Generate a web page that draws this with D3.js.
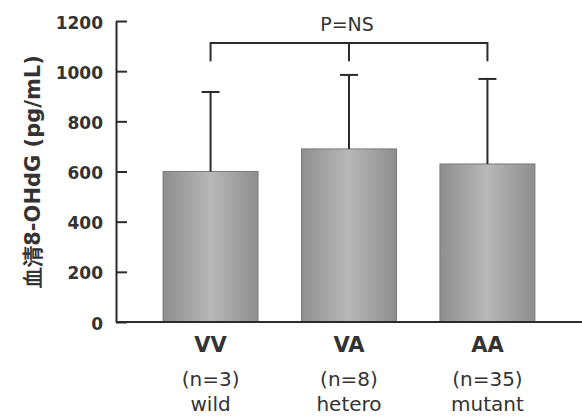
<!DOCTYPE html>
<html>
<head>
<meta charset="utf-8">
<script src="https://cdn.jsdelivr.net/npm/d3@7"></script>
<style>
  html, body { margin: 0; padding: 0; background: #fff; }
</style>
</head>
<body>
<div id="chart"></div>
<script>
const genotypes = ["VV", "VA", "AA"];
const sampleSizes = ["(n=3)", "(n=8)", "(n=35)"];
const groupNames = ["wild", "hetero", "mutant"];
const means = [600, 690, 630];
const upperErrors = [917, 985, 969];
const yTicks = [0, 200, 400, 600, 800, 1000, 1200];
const yTitle = "血清8-OHdG (pg/mL)";
const pLabel = "P=NS";
const bracketLevel = 1112;
const bracketLegEnd = 1040;

const width = 582;
const height = 416;
const margin = { top: 21, right: 0, bottom: 94, left: 116 };
const font = "'DejaVu Sans', Verdana, sans-serif";
const ink = "#2b2b2b";

const svg = d3.select("#chart").append("svg")
  .attr("width", width)
  .attr("height", height)
  .attr("viewBox", `0 0 ${width} ${height}`);

/** gradient for bars **/
const grad = svg.append("defs").append("linearGradient")
  .attr("id", "barGrad")
  .attr("x1", "0%").attr("x2", "100%").attr("y1", "0%").attr("y2", "0%");
grad.append("stop").attr("offset", "0%").attr("stop-color", "#8e8e8e");
grad.append("stop").attr("offset", "50%").attr("stop-color", "#b8b8b8");
grad.append("stop").attr("offset", "100%").attr("stop-color", "#8e8e8e");

const y = d3.scaleLinear()
  .domain([0, 1200])
  .range([height - margin.bottom, margin.top]);

const x = d3.scaleBand()
  .domain(genotypes)
  .range([margin.left, width - margin.right])
  .paddingInner(0.314)
  .paddingOuter(0.34);

/** bars **/
svg.append("g")
  .selectAll("rect")
  .data(genotypes)
  .join("rect")
  .attr("x", (d) => x(d))
  .attr("y", (d, i) => y(means[i]))
  .attr("width", x.bandwidth())
  .attr("height", (d, i) => y(0) - y(means[i]))
  .attr("fill", "url(#barGrad)")
  .attr("stroke", "#7a7a7a")
  .attr("stroke-width", 1);

/** error bars **/
const capHalf = 9;
const err = svg.append("g").attr("stroke", ink).attr("stroke-width", 2);
genotypes.forEach((g, i) => {
  const cx = x(g) + x.bandwidth() / 2;
  err.append("line")
    .attr("x1", cx).attr("x2", cx)
    .attr("y1", y(means[i])).attr("y2", y(upperErrors[i]));
  err.append("line")
    .attr("x1", cx - capHalf).attr("x2", cx + capHalf)
    .attr("y1", y(upperErrors[i])).attr("y2", y(upperErrors[i]));
});

/** y axis **/
svg.append("g")
  .attr("transform", `translate(${margin.left},0)`)
  .call(d3.axisLeft(y).tickValues(yTicks).tickFormat(d3.format("d"))
    .tickSizeInner(-11).tickSizeOuter(0).tickPadding(13))
  .call((g) => {
    g.select(".domain").attr("stroke", ink).attr("stroke-width", 2);
    g.selectAll(".tick line").attr("stroke", ink).attr("stroke-width", 2);
    g.selectAll(".tick text")
      .attr("fill", "#333")
      .attr("font-family", font)
      .attr("font-weight", "bold")
      .attr("font-size", 17)
      .attr("dy", "0.42em");
  });

/** x axis line **/
svg.append("line")
  .attr("x1", margin.left).attr("x2", width)
  .attr("y1", y(0)).attr("y2", y(0))
  .attr("stroke", ink)
  .attr("stroke-width", 2);

/** category labels **/
const labels = svg.append("g")
  .attr("text-anchor", "middle")
  .attr("fill", "#333")
  .attr("font-family", font);
genotypes.forEach((g, i) => {
  const cx = x(g) + x.bandwidth() / 2;
  labels.append("text").attr("x", cx).attr("y", y(0) + 30)
    .attr("font-size", 21).attr("font-weight", "bold").text(g);
  labels.append("text").attr("x", cx).attr("y", y(0) + 64)
    .attr("font-size", 20).text(sampleSizes[i]);
  labels.append("text").attr("x", cx).attr("y", y(0) + 89)
    .attr("font-size", 20).text(groupNames[i]);
});

/** y title **/
svg.append("text")
  .attr("transform", `translate(40, ${(y(0) + y(1200)) / 2}) rotate(-90)`)
  .attr("text-anchor", "middle")
  .attr("fill", "#333")
  .attr("font-family", font)
  .attr("font-weight", "bold")
  .attr("font-size", 21)
  .text(yTitle);

/** significance bracket **/
const left = x(genotypes[0]) + x.bandwidth() / 2;
const mid = x(genotypes[1]) + x.bandwidth() / 2;
const right = x(genotypes[2]) + x.bandwidth() / 2;
const br = svg.append("g").attr("stroke", ink).attr("stroke-width", 2).attr("fill", "none");
br.append("path")
  .attr("d", `M${left},${y(bracketLegEnd)}V${y(bracketLevel)}H${right}V${y(bracketLegEnd)}`);
br.append("line")
  .attr("x1", mid).attr("x2", mid)
  .attr("y1", y(bracketLevel)).attr("y2", y(bracketLegEnd));

svg.append("text")
  .attr("x", mid - 2)
  .attr("y", y(bracketLevel) - 12)
  .attr("text-anchor", "middle")
  .attr("fill", "#333")
  .attr("font-family", font)
  .attr("font-size", 19)
  .text(pLabel);
</script>
</body>
</html>
